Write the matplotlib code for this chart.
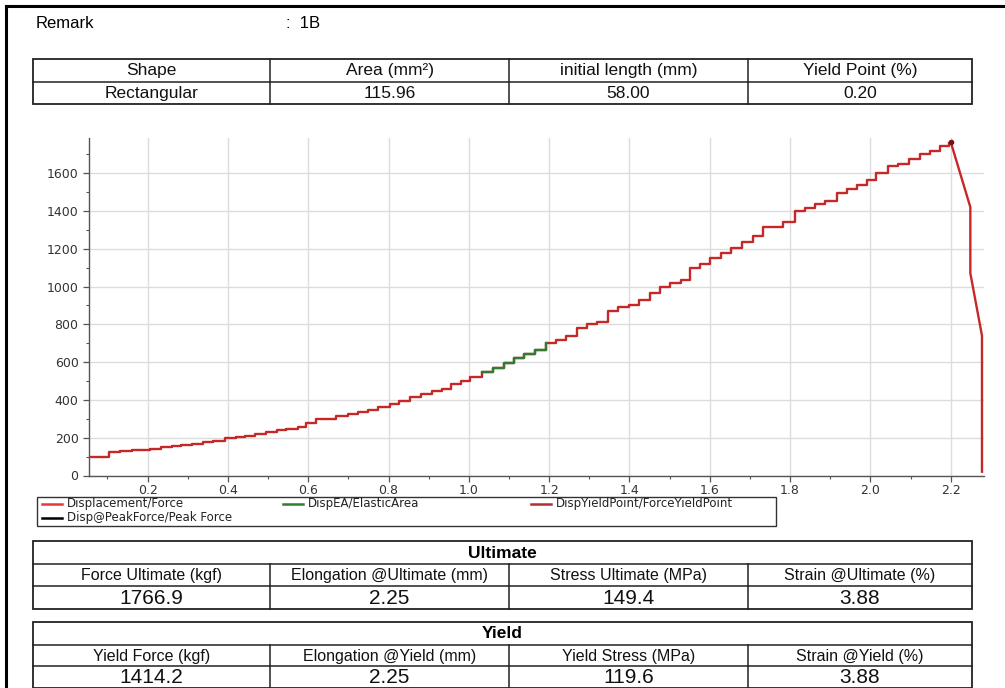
import numpy as np
import matplotlib.pyplot as plt
from matplotlib.patches import Rectangle
from matplotlib.lines import Line2D

# ---- header info ----
remark = "1B"
spec_headers = ["Shape", "Area (mm²)", "initial length (mm)", "Yield Point (%)"]
spec_values = ["Rectangular", "115.96", "58.00", "0.20"]

ult_headers = ["Force Ultimate (kgf)", "Elongation @Ultimate (mm)",
               "Stress Ultimate (MPa)", "Strain @Ultimate (%)"]
ult_values = ["1766.9", "2.25", "149.4", "3.88"]

yld_headers = ["Yield Force (kgf)", "Elongation @Yield (mm)",
               "Yield Stress (MPa)", "Strain @Yield (%)"]
yld_values = ["1414.2", "2.25", "119.6", "3.88"]

# ---- displacement / force curve (stepped) ----
disp_steps = [0.054, 0.105, 0.130, 0.160, 0.205, 0.234, 0.260, 0.284, 0.310,
              0.338, 0.363, 0.392, 0.420, 0.442, 0.467, 0.496, 0.521, 0.545,
              0.574, 0.595, 0.620, 0.670, 0.699, 0.724, 0.749, 0.774, 0.803,
              0.826, 0.853, 0.882, 0.907, 0.932, 0.956, 0.981, 1.002, 1.034,
              1.060, 1.087, 1.112, 1.138, 1.164, 1.191, 1.218, 1.243, 1.269,
              1.294, 1.318, 1.346, 1.371, 1.400, 1.425, 1.450, 1.475, 1.500,
              1.529, 1.552, 1.575, 1.601, 1.627, 1.654, 1.681, 1.708, 1.733,
              1.783, 1.812, 1.837, 1.862, 1.887, 1.916, 1.941, 1.966, 1.992,
              2.015, 2.044, 2.070, 2.096, 2.123, 2.148, 2.173, 2.197]
force_steps = [100, 126, 129, 133, 140, 149, 155, 161, 168,
               176, 184, 197, 203, 209, 220, 228, 241, 248,
               255, 276, 297, 315, 325, 338, 347, 364, 378,
               394, 414, 431, 447, 459, 482, 502, 523, 549,
               567, 595, 620, 642, 664, 703, 717, 738, 779,
               802, 814, 870, 890, 902, 929, 964, 999, 1017,
               1034, 1096, 1117, 1150, 1180, 1202, 1237, 1267, 1316,
               1343, 1401, 1417, 1435, 1454, 1493, 1514, 1537, 1565,
               1600, 1637, 1650, 1673, 1701, 1718, 1743, 1757]
elastic_start, elastic_end = 35, 41   # indices of the DispEA/ElasticArea part

# drop after the peak
drop_disp = [2.197, 2.200, 2.249, 2.249, 2.278, 2.278]
drop_force = [1757, 1766, 1420, 1070, 740, 20]

peak_disp, peak_force = 2.200, 1766

W, H = 1005, 688
fig = plt.figure(figsize=(W / 100, H / 100), dpi=100)
fig.patch.set_facecolor("white")

# page axes in pixel units for the tables / text
page = fig.add_axes([0, 0, 1, 1])
page.set_xlim(0, W)
page.set_ylim(H, 0)
page.axis("off")

TF = ["Liberation Sans", "DejaVu Sans"]

# page border (top + left)
page.plot([6, W], [6, 6], color="black", lw=2.2)
page.plot([6, 6], [6, H], color="black", lw=2.2)

page.text(36, 24, "Remark", fontsize=12, family=TF, va="center", ha="left")
page.text(286, 24, ":  " + remark, fontsize=12, family=TF, va="center", ha="left")


def draw_table(y_rows, headers, values, title=None, hsize=12, vsize=12):
    x0, x1 = 33, 972
    cols = [x0, 270, 509, 748, x1]
    top, bot = y_rows[0], y_rows[-1]
    page.add_patch(Rectangle((x0, top), x1 - x0, bot - top, fill=False,
                             lw=1.3, ec="#222222"))
    for yy in y_rows[1:-1]:
        page.plot([x0, x1], [yy, yy], color="#222222", lw=1.1)
    first = 1 if title else 0
    for cx in cols[1:-1]:
        page.plot([cx, cx], [y_rows[first], bot], color="#222222", lw=1.1)
    if title:
        page.text((x0 + x1) / 2, (y_rows[0] + y_rows[1]) / 2 + 0.5, title,
                  fontsize=12.5, fontweight="bold", family=TF,
                  ha="center", va="center")
    for i in range(4):
        cx = (cols[i] + cols[i + 1]) / 2
        page.text(cx, (y_rows[first] + y_rows[first + 1]) / 2 + 0.5, headers[i],
                  fontsize=hsize, family=TF,
                  ha="center", va="center", color="#111111")
        page.text(cx, (y_rows[first + 1] + y_rows[first + 2]) / 2 + 0.5, values[i],
                  fontsize=vsize, family=TF, ha="center", va="center",
                  color="#111111")


draw_table([59, 81.5, 104], spec_headers, spec_values, hsize=12.5, vsize=12.5)
draw_table([541, 564, 586, 609], ult_headers, ult_values, title="Ultimate",
           hsize=11.5, vsize=15)
draw_table([622, 645, 666, 688], yld_headers, yld_values, title="Yield",
           hsize=11.5, vsize=15)

# ---- chart ----
ax_l, ax_r, ax_t, ax_b = 89, 984, 138, 475.5
ax = fig.add_axes([ax_l / W, 1 - ax_b / H, (ax_r - ax_l) / W, (ax_b - ax_t) / H])
ax.set_facecolor("white")

red = "#c62828"
ax.step(disp_steps, force_steps, where="post", color=red, lw=1.7, zorder=3)
ax.step(disp_steps[elastic_start:elastic_end + 1],
        force_steps[elastic_start:elastic_end + 1],
        where="post", color="#2e7d32", lw=1.7, zorder=4)
ax.plot(drop_disp, drop_force, color=red, lw=1.7, zorder=3)
ax.plot([peak_disp], [peak_force], "o", color="#7a1010", ms=3, zorder=5)

ax.set_xlim(0.054, 2.283)
ax.set_ylim(0, 1786)
ax.set_xticks(np.arange(0.2, 2.21, 0.2))
ax.set_xticks(np.arange(0.1, 2.3, 0.1), minor=True)
ax.set_yticks(np.arange(0, 1601, 200))
ax.set_yticks(np.arange(100, 1780, 100), minor=True)
ax.xaxis.set_major_formatter(plt.FuncFormatter(lambda v, p: f"{v:.1f}"))
ax.grid(True, which="major", color="#dcdcdc", lw=1.0)
ax.set_axisbelow(True)
for s in ["top", "right"]:
    ax.spines[s].set_visible(False)
for s in ["left", "bottom"]:
    ax.spines[s].set_color("#555555")
    ax.spines[s].set_linewidth(1.0)
ax.tick_params(axis="both", which="major", labelsize=9, colors="#555555",
               labelcolor="#333333", length=4, width=0.9)
ax.tick_params(axis="both", which="minor", length=2.5, width=0.8, colors="#555555")
ax.tick_params(axis="x", pad=2)

# ---- legend box (flow layout like the original) ----
page.add_patch(Rectangle((37, 497), 776 - 37, 526 - 497, fill=False,
                         lw=1.0, ec="#333333"))
legend_items = [("Displacement/Force", "#e53935", 42, 504),
                ("DispEA/ElasticArea", "#2e7d32", 283, 504),
                ("DispYieldPoint/ForceYieldPoint", "#b03030", 531, 504),
                ("Disp@PeakForce/Peak Force", "black", 42, 518)]
for label, col, lx, ly in legend_items:
    page.add_line(Line2D([lx, lx + 20], [ly, ly], color=col, lw=1.8))
    page.text(lx + 25, ly, label, fontsize=8.5, family="DejaVu Sans",
              va="center", ha="left", color="#222222")

fig.savefig("out.png", dpi=100)
